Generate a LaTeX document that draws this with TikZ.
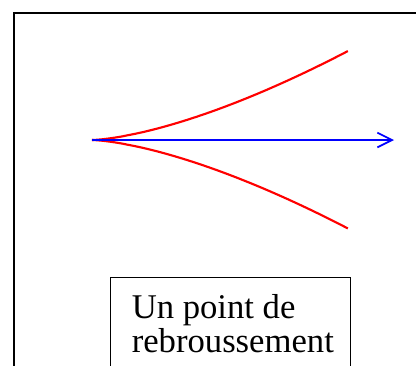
\documentclass[tikz,border=0pt]{standalone}
\usepackage{fontspec}
\setmainfont{Liberation Serif}
\usetikzlibrary{arrows.meta,positioning}

\begin{document}
\begin{tikzpicture}[
    x=0.75pt, y=-0.75pt,
    frame/.style={draw=black, line width=1pt},
    branch/.style={draw=red, line width=1.6pt},
    tangent/.style={draw=blue, line width=1.3pt, -{Straight Barb[length=11pt,width=11pt,line width=1.3pt]}},
    labelbox/.style={rectangle, draw, line width=0.8pt, minimum width=180pt, minimum height=100pt, inner sep=0pt},
    label/.style={font=\fontsize{26}{25.5}\selectfont, align=left, inner sep=0pt}
]
\useasboundingbox (0,0) rectangle (416,365);

% Outer frame (runs off the page)
\draw[frame] (14,13) rectangle (440,390);

% Cusp and tangent
\coordinate (cusp) at (92,140);
\coordinate (tip) at (394,140);
\draw[branch] plot[domain=0:1, samples=60, variable=\t] ({92+256*\t},{140-89*\t^1.5});
\draw[branch] plot[domain=0:1, samples=60, variable=\t] ({92+256*\t},{140+88.5*\t^1.5});
\draw[tangent] (cusp) -- (tip);

% Caption box
\node[labelbox, anchor=north west] (box) at (110,277) {};
\node[label, anchor=base west] (caption) at (131.5,352.7) {Un point de\\rebroussement};
\end{tikzpicture}
\end{document}
